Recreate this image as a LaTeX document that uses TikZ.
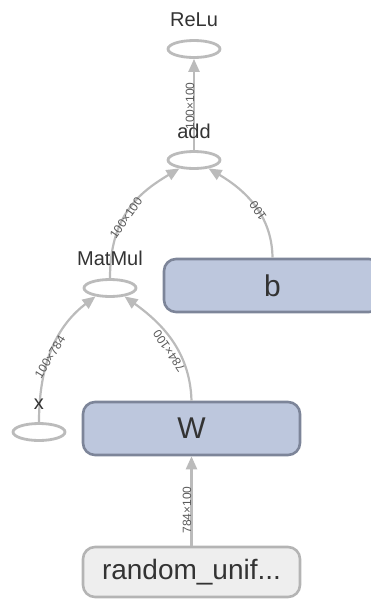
\documentclass[tikz,border=0pt]{standalone}
\usepackage{fontspec}
\setmainfont{Liberation Sans}
\usetikzlibrary{shapes.geometric,arrows.meta}
\definecolor{edgec}{HTML}{BBBBBB}
\definecolor{ellc}{HTML}{BBBBBB}
\definecolor{boxfill}{HTML}{BDC7DD}
\definecolor{boxline}{HTML}{7D8599}
\definecolor{gfill}{HTML}{EEEEEE}
\definecolor{gline}{HTML}{B4B4B4}
\definecolor{txt}{HTML}{333333}
\definecolor{etxt}{HTML}{5A5A5A}
\tikzset{
  opnode/.style={ellipse, draw=ellc, fill=white, line width=2.8pt, minimum width=52pt, minimum height=17pt, inner sep=0pt},
  oplabel/.style={text=txt, font=\fontsize{20}{20}\selectfont, inner sep=0pt},
  varbox/.style={rounded corners=12pt, draw=boxline, fill=boxfill, line width=2.6pt, minimum width=217pt, minimum height=53pt, text=txt, font=\fontsize{30}{30}\selectfont},
  graybox/.style={rounded corners=12pt, draw=gline, fill=gfill, line width=2.6pt, minimum width=217pt, minimum height=50pt, text=txt, font=\fontsize{28}{28}\selectfont},
  flow/.style={draw=edgec, line width=2.2pt, -{Triangle[length=13pt,width=11pt]}},
  elabel/.style={text=etxt, font=\fontsize{12}{12}\selectfont, inner sep=0pt}
}
\begin{document}
\begin{tikzpicture}[x=1pt,y=-1pt]
\useasboundingbox (0,0) rectangle (371,600);
\clip (0,0) rectangle (371,600);
% nodes
\node[opnode] (relu) at (194,49) {};
\node[oplabel] (relul) at (194,20) {ReLu};
\node[opnode] (add) at (194,160) {};
\node[varbox] (b) at (272.5,285.5) {b};
\node[opnode] (mm) at (110,288) {};
\node[opnode] (x) at (39,432) {};
\node[varbox] (W) at (191.5,428.5) {W};
\node[graybox] (ru) at (191.5,572) {random\_unif...};
% edges
\draw[flow] (ru.north) -- (W.south);
\draw[flow] (x.north) .. controls (39,355) and (62,322) .. (mm.-150);
\draw[flow] (W.north) .. controls (190,350) and (160,322) .. (mm.-30);
\draw[flow] (mm.north) .. controls (110,215) and (140,192) .. (add.-150);
\draw[flow] (b.north) .. controls (272,215) and (245,190) .. (add.-30);
\draw[flow] (add.north) -- (relu.south);
% labels over edges
\node[oplabel] (addl) at (194,131) {add};
\node[oplabel] (mml) at (110,258) {MatMul};
\node[oplabel] (xl) at (39,404) {x};
\node[elabel, rotate=90] (l1) at (190,106) {100×100};
\node[elabel, rotate=90] (l2) at (187,510) {784×100};
\node[elabel, rotate=58] (l3) at (50,357) {100×784};
\node[elabel, rotate=124] (l4) at (169,351) {784×100};
\node[elabel, rotate=55] (l5) at (126,218) {100×100};
\node[elabel, rotate=125] (l6) at (258,211) {100};
\end{tikzpicture}
\end{document}
